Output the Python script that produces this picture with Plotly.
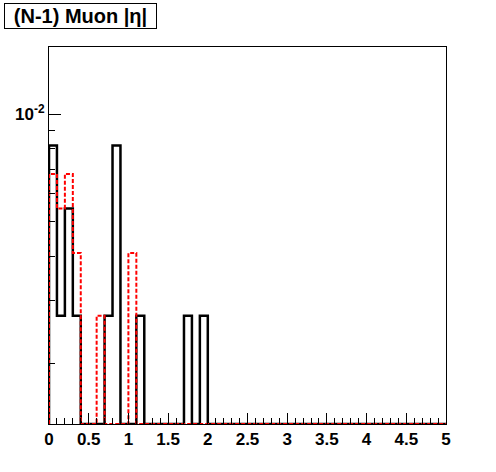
import plotly.graph_objects as go

# Histogram bin edges (0 to 5 in steps of 0.1)
bin_edges = [round(i * 0.1, 1) for i in range(51)]

# Black histogram (solid) - bin contents for 50 bins
black_vals = [0.00817, 0.00272, 0.00544, 0.00272, 0, 0, 0, 0.00272, 0.00817, 0,
              0, 0.00272, 0, 0, 0, 0, 0, 0.00272, 0, 0.00272,
              0, 0, 0, 0, 0, 0, 0, 0, 0, 0,
              0, 0, 0, 0, 0, 0, 0, 0, 0, 0,
              0, 0, 0, 0, 0, 0, 0, 0, 0, 0]

# Red histogram (dashed)
red_vals = [0.0068, 0.00544, 0.0068, 0.00408, 0, 0, 0.00272, 0, 0, 0,
            0.00408, 0, 0, 0, 0, 0, 0, 0, 0, 0,
            0, 0, 0, 0, 0, 0, 0, 0, 0, 0,
            0, 0, 0, 0, 0, 0, 0, 0, 0, 0,
            0, 0, 0, 0, 0, 0, 0, 0, 0, 0]

y_min = 0.00135
y_max = 0.01545

x_tickvals = [0, 0.5, 1, 1.5, 2, 2.5, 3, 3.5, 4, 4.5, 5]
x_ticktext = ["0", "0.5", "1", "1.5", "2", "2.5", "3", "3.5", "4", "4.5", "5"]
y_tickvals = [0.01]
y_ticktext = ["10<sup>-2</sup>"]
y_minor = [0.002, 0.003, 0.004, 0.005, 0.006, 0.007, 0.008, 0.009]


def step(vals):
    xs = [bin_edges[0]] + bin_edges
    ys = [y_min] + [v if v > 0 else y_min for v in vals] + [y_min]
    return xs, ys


fig = go.Figure()
bx, by = step(black_vals)
fig.add_trace(go.Scatter(x=bx, y=by, mode="lines", line_shape="hv",
                         line=dict(color="black", width=2.5), cliponaxis=False,
                         showlegend=False, hoverinfo="skip"))
rx, ry = step(red_vals)
fig.add_trace(go.Scatter(x=rx, y=ry, mode="lines", line_shape="hv",
                         line=dict(color="#ff0000", width=2, dash="4px,2px"),
                         cliponaxis=False, showlegend=False, hoverinfo="skip"))

tick_font = dict(family="Liberation Sans, Arial, sans-serif", size=17, color="black", weight="bold")

fig.update_layout(
    template="none",
    width=496, height=472,
    margin=dict(l=49, r=50, t=47, b=48, autoexpand=False),
    paper_bgcolor="white", plot_bgcolor="white",
    xaxis=dict(range=[0, 5], showgrid=False, zeroline=False, automargin=False,
               showline=True, linecolor="black", linewidth=1, mirror=True,
               tickmode="array", tickvals=x_tickvals, ticktext=x_ticktext,
               ticks="inside", ticklen=11, tickcolor="black", tickwidth=1,
               minor=dict(dtick=0.1, tick0=0, ticks="inside", ticklen=6,
                          tickcolor="black", tickwidth=1, showgrid=False),
               tickfont=tick_font),
    yaxis=dict(type="log", range=[-2.8697, -1.811], showgrid=False, zeroline=False,
               automargin=False,
               showline=True, linecolor="black", linewidth=1, mirror=True,
               tickmode="array", tickvals=y_tickvals, ticktext=y_ticktext,
               ticks="inside", ticklen=12, tickcolor="black", tickwidth=1,
               minor=dict(tickmode="array", tickvals=y_minor, ticks="inside", ticklen=6,
                          tickcolor="black", tickwidth=1, showgrid=False),
               tickfont=tick_font),
)

fig.add_annotation(
    text="<b>(N-1) Muon |η|</b>",
    xref="paper", yref="paper",
    x=(4 - 49) / 397, y=(424 - 3) / 377,
    xanchor="left", yanchor="top",
    showarrow=False,
    font=dict(family="Liberation Sans, Arial, sans-serif", size=20, color="black"),
    bordercolor="black", borderwidth=1, borderpad=0,
    bgcolor="white", width=151, height=24, align="center",
)

fig.write_html("out.html",
               config={"displayModeBar": False},
               post_script="document.body.style.margin='0';document.body.style.overflow='hidden';")
